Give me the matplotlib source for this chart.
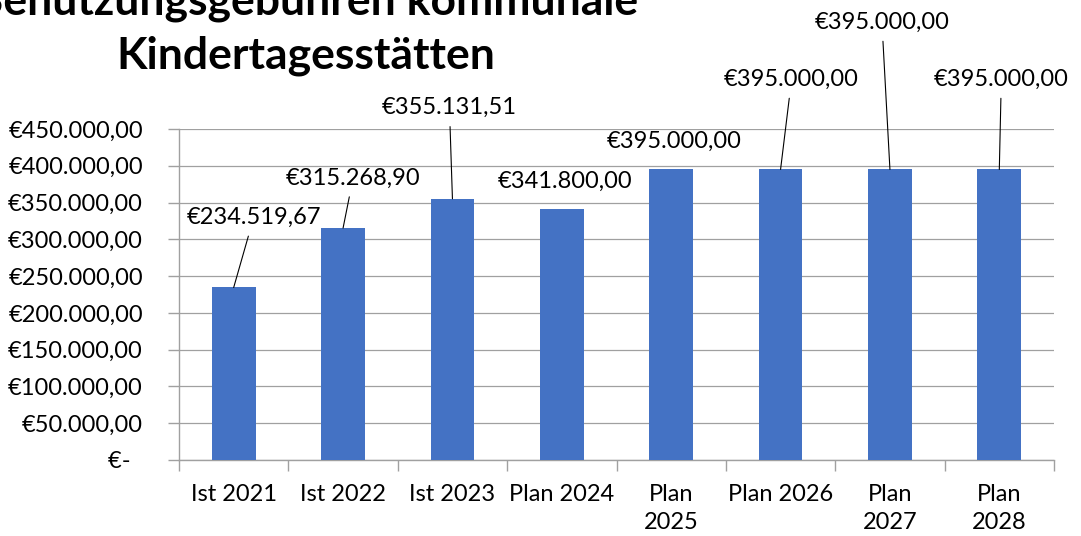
import numpy as np
import matplotlib.pyplot as plt
from matplotlib.ticker import FuncFormatter, MultipleLocator

plt.rcParams['font.family'] = ['Lato', 'DejaVu Sans']

kategorien = ['Ist 2021', 'Ist 2022', 'Ist 2023', 'Plan 2024',
              'Plan\n2025', 'Plan 2026', 'Plan\n2027', 'Plan\n2028']
werte = [234519.67, 315268.90, 355131.51, 341800.00,
         395000.00, 395000.00, 395000.00, 395000.00]
titel = ['Benutzungsgebühren kommunale', 'Kindertagesstätten']

# Lage der Datenbeschriftungen (Pixel relativ zur Säulenoberkante)
label_offset = [(20, 70), (10, 50), (-3, 91), (3, 27),
                (3, 28), (11, 90), (-8, 147), (2, 90)]

GRAU = '#a0a0a0'
FS = 17


def euro(v, pos=None):
    if v == 0:
        return '€-  '
    s = f'{v:,.2f}'.replace(',', 'X').replace('.', ',').replace('X', '.')
    return '€' + s


fig = plt.figure(figsize=(10.81, 5.36), dpi=100)
ax = fig.add_axes([179/1081, 1-460/536, (1054-179)/1081, (460-129)/536])

x = np.arange(len(werte))
ax.bar(x, werte, width=0.4, color='#4472C4', zorder=3)

ax.set_xlim(-0.5, len(werte)-0.5)
ax.set_ylim(0, 450000)
ax.yaxis.set_major_locator(MultipleLocator(50000))
ax.yaxis.set_major_formatter(FuncFormatter(euro))
ax.grid(axis='y', color=GRAU, lw=0.9, zorder=0)

ax.set_xticks(x)
ax.set_xticklabels(kategorien, linespacing=1.45)
ax.set_xticks(np.arange(-0.5, len(werte), 1), minor=True)
ax.tick_params(axis='x', which='major', length=0, pad=17, labelsize=FS)
ax.tick_params(axis='x', which='minor', length=8, color=GRAU, width=1)
ax.tick_params(axis='y', length=8, color=GRAU, width=1, pad=18, labelsize=FS)

for s in ['top', 'right']:
    ax.spines[s].set_visible(False)
for s in ['left', 'bottom']:
    ax.spines[s].set_color(GRAU)
    ax.spines[s].set_linewidth(1)

for i, v in enumerate(werte):
    dx, dy = label_offset[i]
    pfeil = None
    if dy > 40:
        pfeil = dict(arrowstyle='-', color='black', lw=0.8, shrinkA=4, shrinkB=0)
    ax.annotate(euro(v), xy=(i, v), xytext=(dx, dy), textcoords='offset pixels',
                ha='center', va='center', fontsize=FS, arrowprops=pfeil,
                annotation_clip=False)

fig.text(306/1081, 1-15/536, titel[0], ha='center', va='baseline',
         fontsize=32, fontweight='bold')
fig.text(306/1081, 1-68/536, titel[1], ha='center', va='baseline',
         fontsize=32, fontweight='bold')

fig.savefig('out.png', dpi=100)
